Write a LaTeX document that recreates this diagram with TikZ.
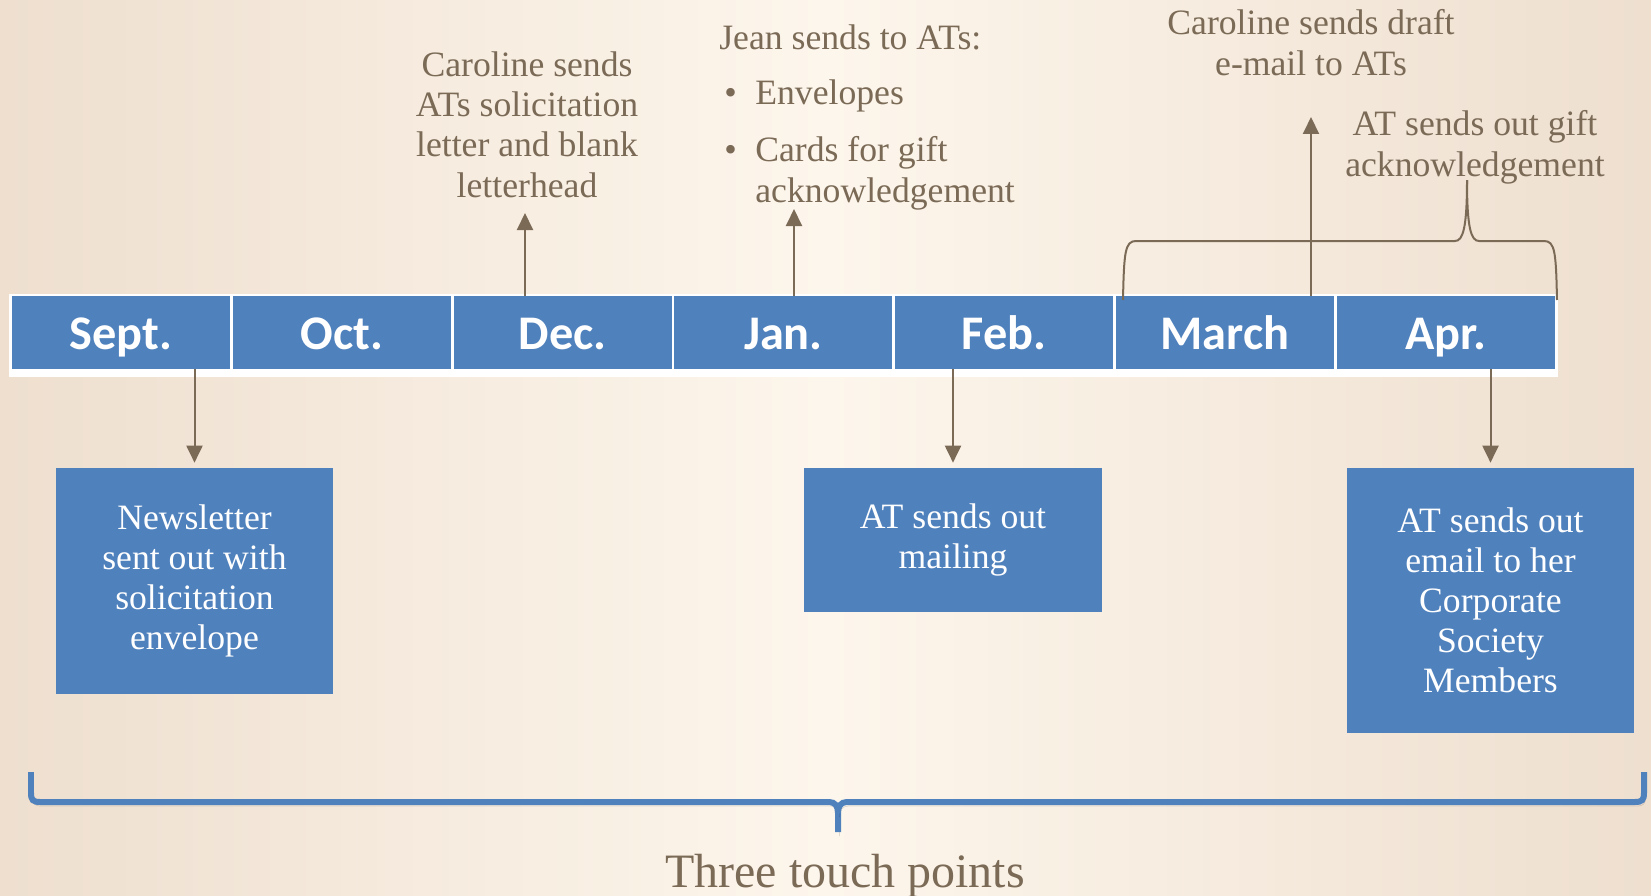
\documentclass[tikz,border=0pt]{standalone}
\usepackage{fontspec}
\setmainfont{Liberation Serif}
\newfontfamily\calfont{Carlito}
\usetikzlibrary{arrows.meta}
\definecolor{boxblue}{HTML}{4F81BD}
\definecolor{linebrown}{HTML}{7A6A56}
\definecolor{bgin}{HTML}{FDF6EC}
\definecolor{bgout}{HTML}{EEDFCF}
\tikzset{
    MB/.style ={rectangle, fill=boxblue, text=white, minimum width=4.36cm, minimum height=1.46cm, inner sep=0pt, text height=0.66cm, text depth=0pt, font=\calfont\bfseries\fontsize{27.5}{30}\selectfont},
    TB/.style ={rectangle, fill=boxblue, text=white, align=center, inner sep=0pt, font=\fontsize{20.3}{22.8}\selectfont},
    TX/.style ={text=linebrown, align=center, inner sep=0pt, font=\fontsize{20.3}{22.8}\selectfont},
    AR/.style ={draw=linebrown, line width=0.04cm, -{Triangle[length=0.34cm,width=0.32cm]}},
    BR/.style ={draw=linebrown, line width=0.04cm},
    BB/.style ={draw=boxblue, line width=0.12cm, preaction={draw=black, opacity=0.12, transform canvas={xshift=0.03cm,yshift=-0.08cm}}}}

\begin{document}
\begin{tikzpicture}[x=0.02cm, y=-0.02cm]
        \useasboundingbox (0,0) rectangle (1651,896);
        \shade[left color=bgout, right color=bgout, middle color=bgin] (0,0) rectangle (1651,896);
        % month strip
        \fill[white] (9,294) rectangle (1558,377);
        \node[MB] (1) at(121,332.5){Sept.};
        \node[MB] (2) at(341.8,332.5){Oct.};
        \node[MB] (3) at(562.6,332.5){Dec.};
        \node[MB] (4) at(783.4,332.5){Jan.};
        \node[MB] (5) at(1004.2,332.5){Feb.};
        \node[MB] (6) at(1225,332.5){March};
        \node[MB] (7) at(1445.8,332.5){Apr.};
        % boxes below
        \node[TB, minimum width=5.54cm, minimum height=4.52cm] (b1) at(194.5,581){Newsletter\\sent out with\\solicitation\\envelope};
        \node[TB, minimum width=5.96cm, minimum height=2.88cm] (b2) at(953,540){AT sends out\\mailing};
        \node[TB, minimum width=5.74cm, minimum height=5.3cm] (b3) at(1490.5,600.5){AT sends out\\email to her\\Corporate\\Society\\Members};
        % texts above (base = last line)
        \node[TX, anchor=base] (t1) at(527,197){Caroline sends\\ATs solicitation\\letter and blank\\letterhead};
        \node[TX, align=left, anchor=base west] (t2) at(719,202){Jean sends to ATs:\\[0.3cm]\hspace*{0.1cm}\makebox[0.62cm][l]{\textbullet}Envelopes\\[0.34cm]\hspace*{0.1cm}\makebox[0.62cm][l]{\textbullet}Cards for gift\\\hspace*{0.72cm}acknowledgement};
        \node[TX, anchor=base] (t3) at(1311,75){Caroline sends draft\\e-mail to ATs};
        \node[TX, anchor=base] (t4) at(1475,176){AT sends out gift\\acknowledgement};
        \node[TX, anchor=base, font=\fontsize{27.3}{30}\selectfont] (t5) at(845,887){Three touch points};
        \coordinate (c1) at(525,213);
        \coordinate (c2) at(794,209);
        \coordinate (c3) at(1311,117);
        % arrows
        \draw[AR] (3.north -| c1) --(c1);
        \draw[AR] (4.north -| c2) --(c2);
        \draw[AR] (6.north -| c3) --(c3);
        \draw[AR, shorten >=0.1cm] (1.south -| b1.north) --(b1.north);
        \draw[AR, shorten >=0.1cm] (5.south -| b2.north) --(b2.north);
        \draw[AR, shorten >=0.1cm] (7.south -| b3.north) --(b3.north);
        % braces
        \draw[BR] (1123,300) .. controls (1124,252) and (1125,241) .. (1136,241) --(1455,241) .. controls (1463,241) and (1467,228) .. (1467,180);
        \draw[BR] (1557,300) .. controls (1556,252) and (1555,241) .. (1544,241) --(1479,241) .. controls (1471,241) and (1467,228) .. (1467,180);
        \draw[BB] (31,772) --(31,793) .. controls (31,800) and (33,802) .. (40,802) --(829,802) .. controls (835,802) and (838,806) .. (838,813) --(838,832);
        \draw[BB] (1644,772) --(1644,793) .. controls (1644,800) and (1642,802) .. (1635,802) --(847,802) .. controls (841,802) and (838,806) .. (838,813);
    \end{tikzpicture}
\end{document}
